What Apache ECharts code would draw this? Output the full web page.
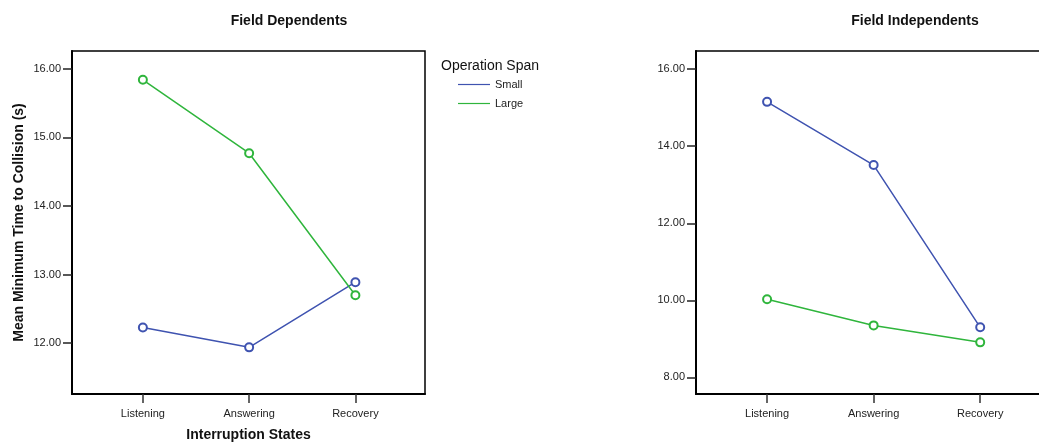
<!DOCTYPE html>
<html>
<head>
<meta charset="utf-8">
<script src="https://cdn.jsdelivr.net/npm/echarts@6/dist/echarts.min.js"></script>
<style>
  html, body { margin: 0; padding: 0; background: #fff; }
  #chart { width: 1039px; height: 443px; }
</style>
</head>
<body>
<div id="chart"></div>
<script>
// Interruption states along the x axis
const states = ['Listening', 'Answering', 'Recovery'];

// Mean minimum time to collision (s), Field Dependents
const depSmall = [12.23, 11.94, 12.89];
const depLarge = [15.84, 14.77, 12.70];

// Mean minimum time to collision (s), Field Independents
const indSmall = [15.15, 13.51, 9.30];
const indLarge = [10.03, 9.35, 8.91];

// Tick values for each panel's y axis
const depTicks = [12, 13, 14, 15, 16];
const indTicks = [8, 10, 12, 14, 16];
const stateTicks = [0, 1, 2];

const BLUE = '#3f53b0';
const GREEN = '#2fb53c';
const FONT = '"Liberation Sans", Arial, sans-serif';

const chart = echarts.init(document.getElementById('chart'), null, { renderer: 'canvas' });

function pts(arr) { return arr.map((v, i) => [i, v]); }

function xAxisFor(gridIndex, showName) {
  return {
    type: 'value', gridIndex, min: -0.667, max: 2.655,
    name: showName ? 'Interruption States' : '',
    nameLocation: 'middle', nameGap: 34,
    nameTextStyle: { fontFamily: FONT, fontSize: 14, fontWeight: 'bold', color: '#111' },
    splitLine: { show: false },
    axisLine: { show: true, onZero: false, lineStyle: { color: '#000', width: 2 } },
    axisTick: { show: true, customValues: stateTicks, length: 9, lineStyle: { color: '#333', width: 1.5 } },
    axisLabel: {
      customValues: stateTicks, margin: 14,
      fontFamily: FONT, fontSize: 11, color: '#222',
      formatter: v => states[Math.round(v)] || ''
    }
  };
}

function yAxisFor(gridIndex, min, max, ticks, showName) {
  return {
    type: 'value', gridIndex, min, max,
    name: showName ? 'Mean Minimum Time to Collision (s)' : '',
    nameLocation: 'middle', nameGap: 46,
    nameTextStyle: { fontFamily: FONT, fontSize: 14, fontWeight: 'bold', color: '#111' },
    splitLine: { show: false },
    axisLine: { show: true, onZero: false, lineStyle: { color: '#000', width: 2 } },
    axisTick: { show: true, customValues: ticks, length: 9, lineStyle: { color: '#222', width: 1.5 } },
    axisLabel: {
      customValues: ticks, margin: 11,
      fontFamily: FONT, fontSize: 11, color: '#222',
      formatter: v => v.toFixed(2)
    }
  };
}

function lineSeries(name, data, color, idx) {
  return {
    name, type: 'line', data: pts(data),
    xAxisIndex: idx, yAxisIndex: idx,
    symbol: 'emptyCircle', symbolSize: 8,
    lineStyle: { color, width: 1.5 },
    itemStyle: { color, borderColor: color, borderWidth: 1.5 },
    emphasis: { disabled: true },
    animation: false
  };
}

chart.setOption({
  animation: false,
  backgroundColor: '#fff',
  title: [
    { text: 'Field Dependents', left: 284, top: 9, textAlign: 'center',
      textStyle: { fontFamily: FONT, fontSize: 14, fontWeight: 'bold', color: '#111' } },
    { text: 'Field Independents', left: 910, top: 9, textAlign: 'center',
      textStyle: { fontFamily: FONT, fontSize: 14, fontWeight: 'bold', color: '#111' } },
    { text: 'Operation Span', left: 436, top: 54,
      textStyle: { fontFamily: FONT, fontSize: 14, fontWeight: 'normal', color: '#111' } }
  ],
  legend: {
    orient: 'vertical', left: 453, top: 74,
    itemWidth: 32, itemHeight: 1.2, itemGap: 8,
    icon: 'rect',
    itemStyle: { borderWidth: 0 },
    data: ['Small', 'Large'],
    selectedMode: false,
    textStyle: { fontFamily: FONT, fontSize: 11, color: '#222' }
  },
  grid: [
    { left: 72, top: 51, width: 353, height: 343, outerBoundsMode: 'none', containLabel: false,
      show: true, borderColor: '#000', borderWidth: 1.5, backgroundColor: 'transparent' },
    { left: 696, top: 51, width: 354, height: 343, outerBoundsMode: 'none', containLabel: false,
      show: true, borderColor: '#000', borderWidth: 1.5, backgroundColor: 'transparent' }
  ],
  xAxis: [xAxisFor(0, true), xAxisFor(1, false)],
  yAxis: [
    yAxisFor(0, 11.26, 16.26, depTicks, true),
    yAxisFor(1, 7.57, 16.47, indTicks, false)
  ],
  series: [
    lineSeries('Small', depSmall, BLUE, 0),
    lineSeries('Large', depLarge, GREEN, 0),
    lineSeries('Small', indSmall, BLUE, 1),
    lineSeries('Large', indLarge, GREEN, 1)
  ]
});
</script>
</body>
</html>
